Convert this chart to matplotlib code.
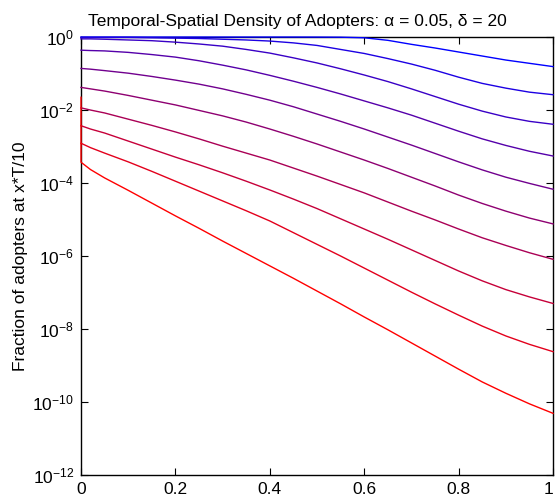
import matplotlib
matplotlib.use("Agg")
import matplotlib.pyplot as plt
import numpy as np

plt.rcParams['font.family'] = ['Liberation Sans', 'DejaVu Sans']
plt.rcParams['mathtext.fontset'] = 'custom'
plt.rcParams['mathtext.rm'] = 'Liberation Sans'
plt.rcParams['mathtext.it'] = 'Liberation Sans:italic'

# positions along the line (fraction of T)
x = [0, 0.02, 0.05, 0.1, 0.15, 0.2, 0.25, 0.3, 0.35, 0.4, 0.45,
     0.5, 0.55, 0.6, 0.65, 0.7, 0.75, 0.8, 0.85, 0.9, 0.95, 1.0]

# log10 of fraction of adopters, latest (blue) to earliest (red)
c1 = [0, 0, 0, 0, 0, 0, 0, 0, 0, 0, 0,
      -0.001, -0.004, -0.02, -0.09, -0.20, -0.30, -0.41, -0.52, -0.63, -0.72, -0.81]
c2 = [-0.01, -0.01, -0.01, -0.01, -0.02, -0.03, -0.04, -0.06, -0.08, -0.11, -0.16,
      -0.23, -0.34, -0.45, -0.59, -0.74, -0.91, -1.10, -1.27, -1.40, -1.51, -1.58]
c3 = [-0.05, -0.05, -0.06, -0.08, -0.10, -0.14, -0.19, -0.25, -0.34, -0.44, -0.57,
      -0.71, -0.87, -1.04, -1.22, -1.42, -1.63, -1.84, -2.03, -2.19, -2.31, -2.39]
c4 = [-0.36, -0.37, -0.38, -0.42, -0.48, -0.55, -0.65, -0.77, -0.90, -1.05, -1.21,
      -1.38, -1.56, -1.75, -1.94, -2.14, -2.36, -2.58, -2.79, -2.97, -3.13, -3.26]
c5 = [-0.86, -0.88, -0.92, -0.99, -1.08, -1.18, -1.29, -1.42, -1.57, -1.73, -1.91,
      -2.11, -2.31, -2.52, -2.74, -2.96, -3.19, -3.42, -3.64, -3.84, -4.01, -4.17]
c6 = [-1.38, -1.42, -1.48, -1.60, -1.73, -1.86, -2.01, -2.16, -2.33, -2.52, -2.72,
      -2.93, -3.15, -3.37, -3.60, -3.84, -4.08, -4.33, -4.56, -4.77, -4.96, -5.12]
c7 = [-1.94, -2.00, -2.08, -2.25, -2.42, -2.60, -2.79, -2.99, -3.18, -3.37, -3.59,
      -3.81, -4.04, -4.27, -4.52, -4.77, -5.01, -5.26, -5.50, -5.71, -5.91, -6.09]
c8 = [-2.43, -2.52, -2.63, -2.85, -3.07, -3.29, -3.50, -3.72, -3.95, -4.19, -4.44,
      -4.70, -4.98, -5.26, -5.54, -5.83, -6.12, -6.41, -6.68, -6.92, -7.12, -7.30]
c9 = [-2.91, -3.03, -3.18, -3.42, -3.68, -3.95, -4.22, -4.49, -4.76, -5.04, -5.36,
      -5.68, -6.00, -6.33, -6.66, -6.99, -7.31, -7.62, -7.92, -8.19, -8.42, -8.62]
c10 = [-3.43, -3.63, -3.86, -4.20, -4.55, -4.90, -5.24, -5.59, -5.93, -6.27, -6.61,
       -6.96, -7.31, -7.67, -8.02, -8.38, -8.74, -9.10, -9.45, -9.76, -10.05, -10.31]

# the earliest curve starts higher right at x = 0
c10_edge = -1.65

curves = [c1, c2, c3, c4, c5, c6, c7, c8, c9, c10]
yticks = [-12, -10, -8, -6, -4, -2, 0]

fig = plt.figure(figsize=(5.55, 5.04), dpi=100)
ax = fig.add_axes([0.146, 0.0575, 0.8505, 0.869])

n = len(curves)
for i, c in enumerate(curves):
    k = i / (n - 1)
    col = (k, 0, 1 - k)
    xs = np.array(x)
    ys = np.array(c)
    if i == n - 1:
        xs = np.r_[0, xs]
        ys = np.r_[c10_edge, ys]
    ax.semilogy(xs, 10.0 ** ys, color=col, lw=1.0, zorder=3, clip_on=False)

ax.set_xlim(0, 1)
ax.set_ylim(1e-12, 1e0)
ax.set_xticks([0, 0.2, 0.4, 0.6, 0.8, 1])
ax.set_xticklabels(['0', '0.2', '0.4', '0.6', '0.8', '1'])
ax.get_xticklabels()[-1].set_ha('right')
ax.set_yticks([10.0 ** t for t in yticks])
ax.set_yticklabels([r'$\mathregular{10^{%d}}$' % t for t in yticks])
ax.minorticks_off()
ax.tick_params(direction='in', length=5, width=0.8, top=True, right=True,
               labelsize=12.5, pad=5)
for s in ax.spines.values():
    s.set_linewidth(1.0)

ax.set_ylabel('Fraction of adopters at x*T/10', fontsize=12.5, labelpad=3)
ax.set_title('Temporal-Spatial Density of Adopters: α = 0.05, δ = 20',
             fontsize=12.5, pad=8, x=0.458)

fig.savefig('out.png', dpi=100)
